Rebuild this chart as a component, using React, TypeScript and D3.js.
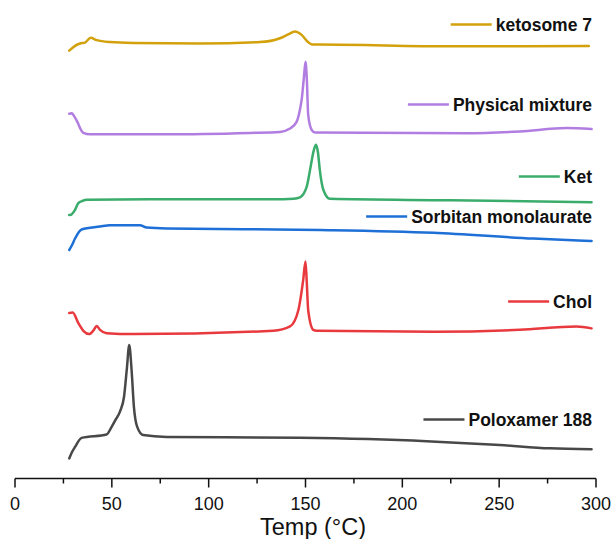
import React, { useEffect, useRef } from "react";
import * as d3 from "d3";

// DSC thermograms, heat flow in arbitrary units (stacked, endo up)
const ketosomeT = [28, 31, 33.6, 36.1, 39.1, 42.2, 49, 61, 95.5, 126.5, 136.8, 141, 144.5, 148, 151.3, 153.3, 157.5, 224.6, 296.3];
const ketosomeV = [89.4, 90.4, 90.9, 91.1, 92.1, 91.6, 91.2, 91.0, 90.9, 91.2, 92.0, 92.8, 93.4, 92.7, 91.2, 90.7, 90.7, 90.3, 90.4];

const physicalT = [28, 29.3, 30.5, 32.2, 33.6, 35.3, 38.7, 78.3, 121.3, 136.8, 142, 145.4, 146.5, 147.3, 148, 149.2, 150, 150.7, 151.4, 153.2, 154.9, 233.2, 260.7, 284.8, 297.7];
const physicalV = [76.2, 76.3, 75.7, 74.5, 73.2, 72.2, 71.9, 71.9, 72.2, 72.4, 73.1, 74.5, 75.9, 77.4, 79.1, 83.9, 87.1, 83.3, 75.9, 72.8, 72.3, 72.1, 72.5, 73.2, 73.0];

const ketT = [28, 29.3, 31, 32.7, 35, 37, 69.7, 138.5, 144, 147.1, 150.6, 152.8, 154.3, 155.4, 156.4, 157.4, 159.2, 162.6, 224.6, 297.7];
const ketV = [55.0, 55.2, 56.1, 57.5, 58.0, 58.2, 58.3, 58.3, 58.4, 58.7, 60.9, 65.5, 68.6, 69.7, 68.2, 64.4, 60.3, 58.4, 58.1, 57.7];

const sorbitanT = [28, 29.4, 31, 34.4, 43.9, 49, 64.5, 68, 78.3, 157.5, 216, 267.6, 297.7];
const sorbitanV = [47.7, 48.7, 50.1, 52.0, 52.6, 52.9, 52.9, 52.4, 52.2, 51.9, 51.3, 50.1, 49.6];

const cholT = [28, 29.8, 32.7, 35.3, 38.4, 40.4, 42.2, 43.9, 47.3, 61.1, 133.4, 142, 146.3, 148.8, 150, 150.6, 151.4, 154, 155.8, 216, 260.7, 290, 297.7];
const cholV = [34.5, 34.6, 32.4, 30.8, 30.1, 30.8, 31.8, 31.0, 30.3, 30.1, 30.8, 31.7, 35.1, 41.4, 45.3, 41.4, 35.1, 31.0, 30.8, 30.6, 31.0, 31.7, 31.3];

const poloxamerT = [28, 29.4, 31, 34.4, 47.3, 49.9, 52.1, 54.2, 56.3, 57.7, 59, 60.2, 61.4, 63.1, 66.2, 78.3, 147.1, 212.5, 250.4, 276.2, 297.7];
const poloxamerV = [4.1, 5.4, 6.5, 8.4, 9.1, 10.7, 12.3, 13.9, 17.0, 22.6, 27.8, 22.6, 14.9, 10.7, 9.0, 8.6, 8.4, 7.7, 6.9, 6.2, 6.0];

const seriesNames = ["ketosome 7", "Physical mixture", "Ket", "Sorbitan monolaurate", "Chol", "Poloxamer 188"];
const seriesColors = ["#d2a10c", "#b27de0", "#3aac6b", "#1e6fd6", "#e8393e", "#484848"];
const xTicks = [0, 50, 100, 150, 200, 250, 300];
const xMinorTicks = [25, 75, 125, 175, 225, 275];

const App = () => {
  const svgRef = useRef<SVGSVGElement>(null);

  useEffect(() => {
    const w = 616;
    const h = 539;
    const svg = d3.select(svgRef.current);
    svg.selectAll("*").remove();

    const xScale = d3.scaleLinear().domain([0, 300]).range([15, 596]);
    const yScale = d3.scaleLinear().domain([0, 100]).range([478, 0]);

    const all = [
      [ketosomeT, ketosomeV],
      [physicalT, physicalV],
      [ketT, ketV],
      [sorbitanT, sorbitanV],
      [cholT, cholV],
      [poloxamerT, poloxamerV],
    ];

    const line = d3
      .line<[number, number]>()
      .x((d) => xScale(d[0]))
      .y((d) => yScale(d[1]))
      .curve(d3.curveMonotoneX);

    all.forEach(([t, v], i) => {
      const pts = t.map((d, j) => [d, v[j]] as [number, number]);
      svg
        .append("path")
        .attr("d", line(pts))
        .attr("fill", "none")
        .attr("stroke", seriesColors[i])
        .attr("stroke-width", 2.5)
        .attr("stroke-linejoin", "round")
        .attr("stroke-linecap", "round");
    });

    // legend labels sit above each curve, right aligned
    const legendY = [25, 105, 177, 217, 302, 420];
    const textRight = 592;
    seriesNames.forEach((name, i) => {
      const txt = svg
        .append("text")
        .attr("x", textRight)
        .attr("y", legendY[i])
        .attr("dy", "0.35em")
        .attr("text-anchor", "end")
        .style("font-family", "Liberation Sans, Arial, sans-serif")
        .style("font-weight", "bold")
        .style("font-size", "17.5px")
        .style("fill", "#111")
        .text(name);
      const tw = (txt.node() as SVGTextElement).getComputedTextLength();
      svg
        .append("line")
        .attr("x1", textRight - tw - 45)
        .attr("x2", textRight - tw - 4)
        .attr("y1", legendY[i] - 0.5)
        .attr("y2", legendY[i] - 0.5)
        .attr("stroke", seriesColors[i])
        .attr("stroke-width", 2.5);
    });

    // x axis
    const axisY = 478.5;
    const ax = svg.append("g").attr("transform", `translate(0,${axisY})`);
    ax.append("line")
      .attr("x1", xScale(0))
      .attr("x2", xScale(300))
      .attr("stroke", "#111")
      .attr("stroke-width", 1.5);
    ax.selectAll(".major")
      .data(xTicks)
      .join("line")
      .attr("x1", (d) => xScale(d))
      .attr("x2", (d) => xScale(d))
      .attr("y1", 0)
      .attr("y2", 9)
      .attr("stroke", "#111")
      .attr("stroke-width", 1.5);
    ax.selectAll(".minor")
      .data(xMinorTicks)
      .join("line")
      .attr("x1", (d) => xScale(d))
      .attr("x2", (d) => xScale(d))
      .attr("y1", 0)
      .attr("y2", 5)
      .attr("stroke", "#111")
      .attr("stroke-width", 1.5);
    ax.selectAll(".lbl")
      .data(xTicks)
      .join("text")
      .attr("x", (d) => xScale(d))
      .attr("y", 25)
      .attr("dy", "0.35em")
      .attr("text-anchor", "middle")
      .style("font-family", "Liberation Sans, Arial, sans-serif")
      .style("font-size", "18px")
      .style("fill", "#111")
      .text((d) => d);

    svg
      .append("text")
      .attr("x", 313)
      .attr("y", 527)
      .attr("dy", "0.35em")
      .attr("text-anchor", "middle")
      .style("font-family", "Liberation Sans, Arial, sans-serif")
      .style("font-size", "23.5px")
      .style("fill", "#111")
      .text("Temp (°C)");

    svg.attr("width", w).attr("height", h);
  }, []);

  return (
    <svg
      ref={svgRef}
      width={616}
      height={539}
      style={{ position: "absolute", left: 0, top: 0, background: "#fff" }}
    ></svg>
  );
};

export default App;
